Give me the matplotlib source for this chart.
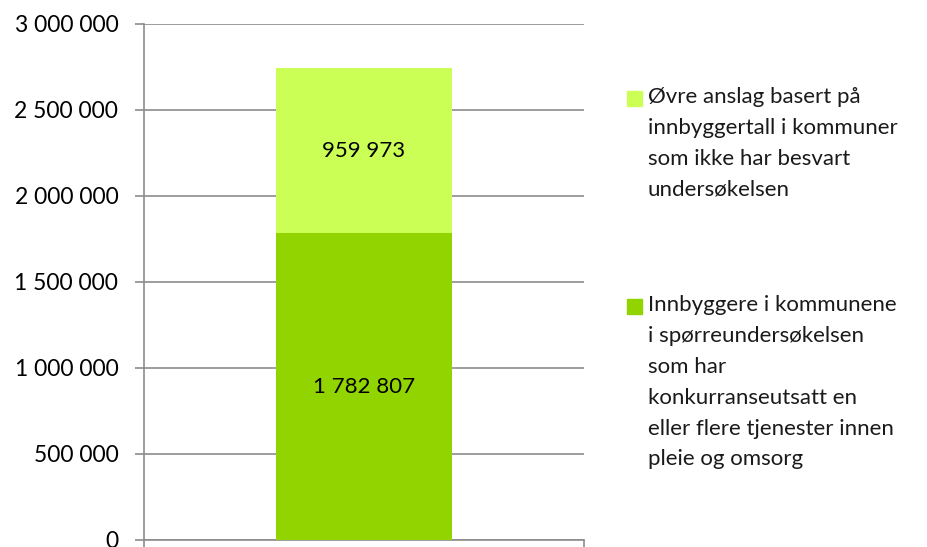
import matplotlib.pyplot as plt
from matplotlib.patches import Rectangle
from matplotlib.ticker import FuncFormatter

# Data
categories = ['']
surveyed = [1782807]
upper_estimate = [959973]
labels = [
    'Øvre anslag basert på\ninnbyggertall i kommuner\nsom ikke har besvart\nundersøkelsen',
    'Innbyggere i kommunene\ni spørreundersøkelsen\nsom har\nkonkurranseutsatt en\neller flere tjenester innen\npleie og omsorg',
]
yticks = [0, 500000, 1000000, 1500000, 2000000, 2500000, 3000000]

col_bottom = '#92d400'
col_top = '#ccff55'
grid_col = '#8c8c8c'

plt.rcParams['font.family'] = ['Lato', 'DejaVu Sans']

fig = plt.figure(figsize=(9.28, 5.47), dpi=100)
ax = fig.add_axes([144 / 928, 7 / 547, 440 / 928, 516 / 547])

x = range(len(categories))
b1 = ax.bar(x, surveyed, width=0.4, color=col_bottom, zorder=3)
b2 = ax.bar(x, upper_estimate, width=0.4, bottom=surveyed, color=col_top, zorder=3)

def fmt(v):
    return f'{int(v):,}'.replace(',', ' ')

ax.bar_label(b1, labels=[fmt(v) for v in surveyed], label_type='center', fontsize=16)
ax.bar_label(b2, labels=[fmt(v) for v in upper_estimate], label_type='center', fontsize=16)

ax.set_xlim(-0.5, 0.5)
ax.set_ylim(0, 3000000)
ax.set_yticks(yticks)
ax.yaxis.set_major_formatter(FuncFormatter(lambda v, p: fmt(v)))
ax.tick_params(axis='y', labelsize=16.5, length=6.5, width=1.2, color=grid_col, pad=12)
ax.set_xticks([-0.5, 0.5])
ax.set_xticklabels([])
ax.tick_params(axis='x', length=6.5, width=1.2, color=grid_col)
ax.yaxis.grid(True, color=grid_col, linewidth=1.2, zorder=0)
ax.set_axisbelow(True)
for s in ['top', 'right']:
    ax.spines[s].set_visible(False)
for s in ['left', 'bottom']:
    ax.spines[s].set_color(grid_col)
    ax.spines[s].set_linewidth(1.2)

# legend drawn by hand so the square sits at the first line
W, H = 928, 547
entries = [(labels[0], col_top, 91), (labels[1], col_bottom, 299)]
for text, col, ytop in entries:
    fig.patches.append(Rectangle((627 / W, 1 - (ytop + 15) / H), 15 / W, 15 / H,
                                 transform=fig.transFigure, color=col))
    fig.text(648 / W, 1 - (ytop - 4) / H, text, fontsize=16, va='top', ha='left',
             linespacing=1.68, color='#1a1a1a')

fig.savefig('out.png', dpi=100)
